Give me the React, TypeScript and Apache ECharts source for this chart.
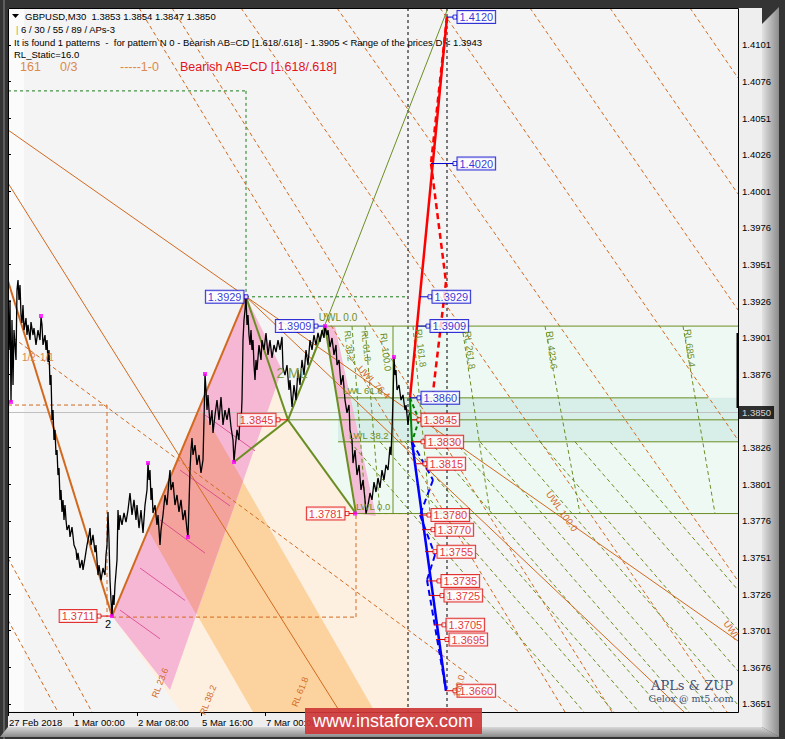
import { useEffect, useRef } from "react";
import * as echarts from "echarts";

const FONT = '"Liberation Sans", Arial, sans-serif';
const SERIF = '"DejaVu Serif", "Liberation Serif", serif';

const X_MIN = 0;
const X_MAX = 730;
const Y_MIN = 1.36455;
const Y_MAX = 1.41262;

const TIME_TICKS = [0, 65, 129, 193, 257];
const TIME_LABELS = ["27 Feb 2018", "1 Mar 00:00", "2 Mar 08:00", "5 Mar 16:00", "7 Mar 00:00"];
const PRICE_TICKS = [1.3651, 1.3676, 1.3701, 1.3726, 1.3751, 1.3776, 1.3801, 1.3826, 1.3876, 1.3901, 1.3926, 1.3951, 1.3976, 1.4001, 1.4026, 1.4051, 1.4076, 1.4101];
const LAST_PRICE = 1.385;

// GBPUSD M30 price path [bar index, price]
const PRICE_PATH = [
  [1,1.38927],[2,1.39268],[3,1.38572],[4,1.39132],[5,1.38688],[6,1.39063],[8,1.38859],[9,1.39337],[10,1.39405],[11,1.39268],[12,1.39371],[13,1.39166],[14,1.39111],[15,1.39234],[16,1.39063],[18,1.39145],[19,1.39029],[20,1.39098],[22,1.38995],[23,1.39118],[25,1.39029],[26,1.39077],[28,1.38961],[30,1.39063],[32,1.38995],[33,1.39152],[34,1.39098],[35,1.38961],[37,1.39029],[38,1.38927],[39,1.38995],[40,1.38845],[41,1.38927],[42,1.38688],[43,1.38756],[44,1.38449],[45,1.38517],[46,1.38312],[47,1.38381],[48,1.38210],[49,1.38244],[50,1.38073],[51,1.38121],[52,1.37903],[53,1.37971],[54,1.37821],[55,1.37903],[56,1.37766],[57,1.37868],[58,1.37766],[59,1.37698],[61,1.37732],[62,1.37650],[64,1.37718],[66,1.37595],[68,1.37561],[69,1.37493],[70,1.37541],[72,1.37438],[74,1.37493],[75,1.37425],[77,1.37506],[79,1.37595],[81,1.37664],[82,1.37711],[83,1.37595],[85,1.37664],[87,1.37547],[88,1.37595],[90,1.37390],[91,1.37459],[93,1.37356],[95,1.37438],[97,1.37390],[98,1.37527],[99,1.37595],[100,1.37821],[101,1.37629],[102,1.37356],[103,1.37220],[104,1.37110],[105,1.37254],[106,1.37186],[107,1.37322],[109,1.37493],[110,1.37834],[111,1.37698],[112,1.37800],[114,1.37732],[116,1.37814],[118,1.37752],[120,1.37834],[122,1.37950],[124,1.37800],[126,1.37903],[128,1.37766],[129,1.37868],[131,1.37711],[133,1.37834],[135,1.37677],[137,1.37868],[139,1.37971],[140,1.38155],[141,1.38039],[142,1.38107],[143,1.37903],[144,1.37985],[145,1.37814],[147,1.37868],[149,1.37732],[150,1.37800],[152,1.37595],[153,1.37698],[155,1.37800],[157,1.37937],[159,1.37868],[161,1.38039],[162,1.38107],[163,1.37971],[165,1.38025],[167,1.37868],[169,1.37937],[171,1.37821],[173,1.37903],[175,1.37766],[177,1.37834],[179,1.37698],[180,1.37650],[181,1.37868],[182,1.38107],[183,1.38244],[184,1.38326],[185,1.38210],[187,1.38278],[189,1.38142],[191,1.38210],[193,1.38087],[195,1.38176],[196,1.38449],[197,1.38763],[198,1.38654],[199,1.38517],[200,1.38620],[202,1.38415],[204,1.38517],[205,1.38360],[207,1.38483],[209,1.38585],[211,1.38449],[213,1.38606],[215,1.38415],[217,1.38517],[219,1.38449],[221,1.38531],[223,1.38401],[225,1.38312],[226,1.38162],[227,1.38244],[229,1.38381],[231,1.38312],[232,1.38497],[233,1.38415],[234,1.38585],[235,1.38995],[236,1.39132],[237,1.39200],[238,1.39290],[239,1.39098],[240,1.39166],[241,1.39029],[242,1.38961],[243,1.39063],[244,1.38927],[245,1.38995],[246,1.38824],[247,1.38722],[248,1.38859],[249,1.38790],[251,1.38961],[253,1.38859],[254,1.38995],[256,1.38927],[258,1.39043],[260,1.38893],[262,1.38995],[264,1.38872],[266,1.38961],[268,1.38913],[270,1.38995],[272,1.38927],[274,1.39016],[275,1.38804],[277,1.38756],[279,1.38824],[281,1.38654],[282,1.38722],[284,1.38538],[286,1.38688],[288,1.38585],[290,1.38790],[292,1.38688],[294,1.38859],[296,1.38756],[298,1.38927],[300,1.38824],[302,1.38995],[304,1.38927],[306,1.39029],[308,1.38961],[310,1.39043],[312,1.38982],[314,1.39063],[316,1.39009],[317,1.39090],[319,1.39029],[320,1.39063],[322,1.38947],[324,1.39009],[326,1.38893],[328,1.38961],[329,1.38824],[331,1.38859],[333,1.38688],[335,1.38756],[337,1.38585],[339,1.38497],[341,1.38551],[342,1.38381],[344,1.38312],[345,1.38155],[347,1.38244],[349,1.38073],[351,1.38142],[353,1.37971],[355,1.38039],[357,1.37903],[358,1.37810],[360,1.37868],[362,1.37950],[364,1.37903],[366,1.38025],[368,1.37957],[370,1.38053],[372,1.37985],[374,1.38107],[376,1.38039],[378,1.38142],[380,1.38107],[382,1.38265],[383,1.38210],[384,1.38381],[385,1.38585],[386,1.38879],[387,1.38756],[388,1.38790],[389,1.38654],[391,1.38688],[393,1.38585],[395,1.38620],[397,1.38517],[398,1.38551],[400,1.38415],[401,1.38483],[402,1.38500]
];

const PIVOTS = [[3,1.38572],[33,1.39159],[104,1.3711],[140,1.38155],[180,1.3765],[197,1.38763],[226,1.38162],[238,1.3929],[317,1.3909],[347,1.3781],[386,1.38879]];

// zones (polygons) [bar index, price]
const MINT_ZONE = [[322,1.3909],[730,1.3909],[730,1.3781],[322,1.3781]];
const TEAL_ZONE = [[330,1.386],[730,1.386],[730,1.383],[330,1.383]];
const PEACH_ZONE = [[104,1.3711],[238,1.3929],[280,1.3845],[348,1.3781],[402,1.3781],[402,1.36455],[173,1.36455]];
const ORANGE_BAND = [[192,1.38538],[367,1.36455],[245,1.36455],[140,1.377]];
const PINK_BAND = [[104,1.3711],[238,1.3929],[274,1.3879],[162,1.36605]];
const SALMON_BAND = [[192,1.38538],[235,1.38032],[188,1.37124],[140,1.377]];
const PINK_STRIP = [[317,1.3909],[327,1.3909],[368,1.37793],[348,1.3781]];

// segments [x1, p1, x2, p2]
const ORANGE_THIN = [[0,1.40429,730,1.3694],[0,1.40067,332,1.36455],[238,1.3929,676,1.36455]];
const ORANGE_THICK = [[0,1.39398,104,1.3711],[104,1.3711,238,1.3929]];
const ORANGE_DASH = [
  [131,1.41262,557,1.36455],[164,1.41262,604,1.36455],[233,1.41262,719,1.36455],[329,1.41262,730,1.3735],
  [432,1.41262,730,1.38312],[522,1.41262,730,1.392],[602,1.41262,730,1.39992],[682,1.41262,730,1.40784],
  [0,1.37506,84,1.36455],[0,1.37083,50,1.36455],[0,1.39036,511,1.36455],
  [0,1.38551,99,1.38551],[99,1.38551,99,1.37103],[104,1.37103,348,1.37103],[348,1.37103,348,1.3781],[348,1.3781,402,1.3781]
];
const MAGENTA = [[197,1.38483,247,1.38238],[172,1.38107,222,1.37862],[152,1.37766,197,1.3754],[132,1.37438,177,1.37217],[112,1.37151,152,1.36955]];
const OLIVE_THICK = [[226,1.38162,280,1.3845],[238,1.3929,280,1.3845],[280,1.3845,317,1.3909],[280,1.3845,348,1.3781],[317,1.3909,348,1.3781]];
const OLIVE_THIN = [[280,1.3845,440,1.41262],[317,1.3909,730,1.3909],[330,1.386,700,1.386],[280,1.3845,730,1.3845],[330,1.383,730,1.383],[348,1.3781,730,1.3781],[385,1.3909,385,1.3781]];
const OLIVE_DASH = [
  [344,1.3909,358,1.3781],[357,1.3909,372,1.3781],[405,1.3909,422,1.3781],[454,1.3909,482,1.3781],[537,1.3909,572,1.3781],[675,1.3909,707,1.3781],
  [342,1.383,576,1.36455],[372,1.383,606,1.36455],[397,1.383,631,1.36455],[422,1.383,656,1.36455],[447,1.383,681,1.36455],
  [472,1.383,706,1.36455],[502,1.383,730,1.36503],[532,1.383,730,1.36735],[567,1.383,730,1.37015],[602,1.383,730,1.37288]
];
const GREEN_RECT = [[0,1.40696,238,1.40696],[238,1.40696,238,1.3929],[238,1.3929,400,1.3929]];
const GREEN_SOLID = [[402,1.386,404,1.383]];
const GREEN_DASH = [[402,1.386,411,1.3845],[411,1.3845,404,1.383]];
const RED_SOLID = [[402,1.386,439,1.412]];
const RED_DASH = [[439,1.412,423,1.402],[423,1.402,438,1.39391],[438,1.39391,425,1.3864]];
const BLUE_SOLID = [[404,1.383,438,1.366]];
const BLUE_DASH = [[404,1.383,425,1.38039],[425,1.38039,412,1.378],[412,1.378,427,1.37527],[427,1.37527,419,1.37356],[419,1.37356,438,1.366]];
const DOTTED = [[400,Y_MAX,400,Y_MIN],[439,Y_MAX,439,Y_MIN]];
const BID_LINE = [[0,LAST_PRICE,730,LAST_PRICE]];
const LAST_BAR = [[730,1.39043,730,1.3853]];
const BLUE_CONNECTORS = [[439,1.412,447,1.412],[423,1.402,447,1.402],[412,1.3929,422,1.3929],[409,1.3909,420,1.3909],[402,1.386,411,1.386],[308,1.3909,317,1.3909]];
const RED_CONNECTORS = [[404,1.3845,411,1.3845],[404,1.383,415,1.383],[407,1.3815,417,1.3815],[412,1.378,421,1.378],[414,1.377,425,1.377],[417,1.3755,427,1.3755],[420,1.3735,431,1.3735],[422,1.3725,434,1.3725],[426,1.3705,436,1.3705],[428,1.3695,439,1.3695],[438,1.366,447,1.366],[270,1.3845,280,1.3845],[339,1.3781,348,1.3781],[91,1.3711,104,1.3711]];

// level labels
const RIGHT_BLUE_LABELS = [[447,1.412],[447,1.402],[422,1.3929],[420,1.3909],[411,1.386]];
const RIGHT_RED_LABELS = [[411,1.3845],[415,1.383],[417,1.3815],[421,1.378],[425,1.377],[427,1.3755],[431,1.3735],[434,1.3725],[436,1.3705],[439,1.3695],[447,1.366]];
const LEFT_BLUE_LABELS = [[238,1.3929],[308,1.3909]];
const LEFT_RED_LABELS = [[270,1.3845],[339,1.3781],[91,1.3711]];

const HEADER_1 = "GBPUSD,M30  1.3853 1.3854 1.3847 1.3850";
const HEADER_2 = "6 / 30 / 55 / 89 / APs-3";
const HEADER_3 = "It is found 1 patterns  -  for pattern N 0 - Bearish AB=CD [1.618/.618] - 1.3905 < Range of the prices D < 1.3943";
const HEADER_4 = "RL_Static=16.0";
const PATTERN_NAME = "Bearish AB=CD [1.618/.618]";

const OLIVE = "#6b8e23";
const ORANGE = "#d2691e";

function segSeries(id: string, segs: number[][], color: string, width: number, dash: number[] | null, z: number, opacity = 1) {
  return {
    id, type: "custom", coordinateSystem: "cartesian2d", silent: true, z, clip: true,
    data: segs, encode: { x: [0, 2], y: [1, 3] },
    renderItem: (_p: any, api: any) => {
      const a = api.coord([api.value(0), api.value(1)]);
      const b = api.coord([api.value(2), api.value(3)]);
      return { type: "line", shape: { x1: a[0], y1: a[1], x2: b[0], y2: b[1] },
        style: { stroke: color, lineWidth: width, lineDash: dash || undefined, fill: null, opacity } };
    },
  };
}

function polySeries(id: string, verts: number[][], color: string, z: number) {
  return {
    id, type: "custom", coordinateSystem: "cartesian2d", silent: true, z, clip: true,
    data: verts, encode: { x: 0, y: 1 },
    renderItem: (p: any, api: any) => {
      if (p.dataIndex !== 0) return null;
      const pts = verts.map((v) => api.coord(v));
      return { type: "polygon", shape: { points: pts }, style: { fill: color } };
    },
  };
}

function labelSeries(id: string, pts: number[][], color: string, side: string) {
  return {
    id, type: "scatter", data: pts, symbol: "rect", symbolSize: 4, z: 20, clip: false, silent: true,
    itemStyle: { color: "#fff", borderColor: color, borderWidth: 1 },
    label: {
      show: true, position: side, distance: 0,
      formatter: (p: any) => p.value[1].toFixed(4),
      color, fontSize: 11, fontFamily: FONT, backgroundColor: "#fff",
      borderColor: color, borderWidth: 1, padding: [1, 2, 0, 2], lineHeight: 11,
    },
  };
}

function txt(text: string, x: number, y: number, color: string, size: number, o: any = {}) {
  return {
    type: "text", x, y, rotation: o.rot || 0, z: o.z ?? 50, silent: true,
    style: {
      text, fill: color, font: `${size}px ${o.family || FONT}`,
      textAlign: o.align || "left", textVerticalAlign: "middle",
      align: o.align || "left", verticalAlign: "middle", opacity: o.opacity ?? 1,
    },
  };
}

export default function App() {
  const ref = useRef<HTMLDivElement>(null);
  useEffect(() => {
    document.body.style.margin = "0";
    const chart = echarts.init(ref.current as HTMLDivElement, null, { renderer: "svg" });
    const option: any = {
      animation: false,
      grid: { left: 8, right: 47, top: 8, bottom: 27, containLabel: false, outerBoundsMode: "none" },
      xAxis: {
        type: "value", min: X_MIN, max: X_MAX,
        axisLine: { show: false }, splitLine: { show: false },
        axisTick: { show: true, customValues: TIME_TICKS, length: 4, lineStyle: { color: "#000" } },
        axisLabel: {
          customValues: TIME_TICKS, formatter: (v: number) => TIME_LABELS[TIME_TICKS.indexOf(v)] || "",
          align: "left", margin: 5, color: "#000", fontSize: 9.5, fontFamily: FONT, padding: [0, 0, 0, 1],
        },
      },
      yAxis: {
        type: "value", position: "right", min: Y_MIN, max: Y_MAX, scale: true,
        axisLine: { show: false }, splitLine: { show: false },
        axisTick: { show: true, customValues: PRICE_TICKS, length: 3, lineStyle: { color: "#000" } },
        axisLabel: { customValues: PRICE_TICKS, formatter: (v: number) => v.toFixed(4), margin: 4, color: "#000", fontSize: 9.5, fontFamily: FONT },
      },
      graphic: [
        { type: "rect", z: -20, shape: { x: 0, y: 0, width: 785, height: 739 }, style: { fill: "#343434" } },
        { type: "rect", z: -19, shape: { x: 3, y: 0, width: 2, height: 739 }, style: { fill: "#5e5e5e" } },
        { type: "rect", z: -19, shape: { x: 8, y: 8, width: 754, height: 719 }, style: { fill: "#eeeeee" } },
        { type: "polygon", z: -18, shape: { points: [[762, 24], [779, 7], [779, 737], [762, 727]] },
          style: { fill: { type: "linear", x: 0, y: 0, x2: 1, y2: 0, colorStops: [{ offset: 0, color: "#e2e2e2" }, { offset: 1, color: "#8c8c8c" }] } } },
        { type: "polygon", z: -18, shape: { points: [[8, 727], [762, 727], [779, 737], [0, 737]] },
          style: { fill: { type: "linear", x: 0, y: 0, x2: 0, y2: 1, colorStops: [{ offset: 0, color: "#d8d8d8" }, { offset: 1, color: "#8a8a8a" }] } } },
        { type: "rect", z: -17, shape: { x: 8, y: 8, width: 730, height: 704 }, style: { fill: "#f4f4f4" } },
        { type: "rect", z: -16, shape: { x: 9, y: 9, width: 15, height: 702 }, style: { fill: "#fbfbfb" } },
        { type: "rect", z: 40, silent: true, shape: { x: 8.5, y: 8.5, width: 730, height: 704 }, style: { fill: "none", stroke: "#000", lineWidth: 1 } },
        // header
        { type: "polygon", z: 50, shape: { points: [[12, 14], [19, 14], [15.5, 18]] }, style: { fill: "#000" } },
        txt(HEADER_1, 25, 16, "#000", 9.5),
        txt("|", 16, 29, "#b8a830", 9.5),
        txt(HEADER_2, 21, 29, "#000", 9.5),
        txt(HEADER_3, 14, 42, "#000", 9.5),
        txt(HEADER_4, 14, 54, "#000", 9.5),
        txt("161", 20, 67, "#dc8a4b", 12.5),
        txt("0/3", 60, 67, "#dc8a4b", 12.5),
        txt("-----1-0", 120, 67, "#dc8a4b", 12.5),
        txt(PATTERN_NAME, 180, 67, "#e3121b", 12.5),
        // annotations
        txt("UWL 0.0", 338, 317, OLIVE, 10, { align: "center" }),
        txt("2 ML", 292, 373, "#7d9c4c", 14, { align: "center", z: 12 }),
        txt("RL 38.2", 349, 346, OLIVE, 9, { align: "center", rot: -1.45 }),
        txt("RL 61.8", 366, 346, OLIVE, 9, { align: "center", rot: -1.45 }),
        txt("RL 100.0", 386, 352, OLIVE, 9.5, { align: "center", rot: -1.45 }),
        txt("RL 161.8", 421, 348, OLIVE, 9.5, { align: "center", rot: -1.45 }),
        txt("RL 261.8", 470, 350, OLIVE, 9.5, { align: "center", rot: -1.45 }),
        txt("RL 423.6", 552, 350, OLIVE, 9.5, { align: "center", rot: -1.45 }),
        txt("RL 685.4", 690, 348, OLIVE, 9.5, { align: "center", rot: -1.45 }),
        txt("LWL 61.8", 343, 390, OLIVE, 9.5),
        txt("LWL 38.2", 349, 435, OLIVE, 9.5),
        txt("LWL 0.0", 356, 506, OLIVE, 9.5),
        txt("UWL 76.4", 374, 382, ORANGE, 9.5, { align: "center", rot: -0.8 }),
        txt("UWL 100.0", 562, 511, ORANGE, 9.5, { align: "center", rot: -0.95 }),
        txt("UWL", 732, 630, ORANGE, 9.5, { align: "center", rot: -0.95 }),
        txt("RL 23.6", 160, 683, ORANGE, 9, { align: "center", rot: 1.2 }),
        txt("RL 38.2", 208, 700, ORANGE, 9, { align: "center", rot: 1.2 }),
        txt("RL 61.8", 300, 692, ORANGE, 9, { align: "center", rot: 1.2 }),
        txt("100.0", 459, 686, ORANGE, 9, { align: "center", rot: 1.3 }),
        txt("1/2", 22, 357, "#d98a50", 10),
        txt("1/1", 40, 357, "#d98a50", 10),
        txt("2", 108, 624, "#000", 11, { align: "center" }),
        txt("APLs & ZUP", 692, 685, "#3f5275", 13, { align: "center", family: SERIF }),
        txt("Gelox @ mt5.com", 691, 698, "#3f5275", 9.5, { align: "center", family: SERIF }),
        // watermark
        { type: "rect", z: 100, shape: { x: 305, y: 708, width: 177, height: 26 }, style: { fill: "rgba(205,55,55,0.92)" } },
        txt("www.instaforex.com", 393, 721, "#ffffff", 18, { align: "center", z: 101 }),
      ],
      series: [
        polySeries("mint", MINT_ZONE, "#eff9f3", 1),
        polySeries("teal", TEAL_ZONE, "#d8eee8", 1),
        polySeries("peach", PEACH_ZONE, "#fdf0e1", 2),
        polySeries("orangeBand", ORANGE_BAND, "#fcd39e", 3),
        polySeries("pink", PINK_BAND, "#f6b7d5", 4),
        polySeries("pinkStrip", PINK_STRIP, "#f4bcd6", 4),
        polySeries("salmon", SALMON_BAND, "#f3a29c", 5),
        segSeries("bid", BID_LINE, "#c0c0c0", 1, null, 6),
        segSeries("orangeDash", ORANGE_DASH, ORANGE, 1, [4, 3], 6),
        segSeries("oliveDash", OLIVE_DASH, OLIVE, 1, [4, 3], 6),
        segSeries("orangeThin", ORANGE_THIN, ORANGE, 1, null, 6),
        segSeries("magenta", MAGENTA, "#d0307e", 1, null, 6, 0.7),
        segSeries("dotted", DOTTED, "#000", 1, [3, 3], 6),
        segSeries("orangeThick", ORANGE_THICK, ORANGE, 2, null, 7),
        segSeries("oliveThin", OLIVE_THIN, OLIVE, 1, null, 7),
        segSeries("greenRect", GREEN_RECT, "#1c7c1c", 1, [3, 3], 7),
        segSeries("oliveThick", OLIVE_THICK, OLIVE, 2, null, 7),
        {
          id: "price", type: "line", data: PRICE_PATH, symbol: "none", silent: true, z: 8,
          lineStyle: { color: "#000", width: 1.3 },
        },
        segSeries("greenSolid", GREEN_SOLID, "#008000", 2, null, 9),
        segSeries("greenDash", GREEN_DASH, "#008000", 2, [4, 3], 9),
        segSeries("redSolid", RED_SOLID, "#ff0000", 2.5, null, 9),
        segSeries("redDash", RED_DASH, "#ff0000", 2.5, [6, 4], 9),
        segSeries("blueSolid", BLUE_SOLID, "#0000ff", 2.5, null, 9),
        segSeries("blueDash", BLUE_DASH, "#0000ff", 2, [6, 4], 9),
        segSeries("blueConn", BLUE_CONNECTORS, "#0000cd", 1, null, 9),
        segSeries("redConn", RED_CONNECTORS, "#dd0000", 1, null, 9),
        segSeries("lastBar", LAST_BAR, "#000", 3, null, 41),
        {
          id: "pivots", type: "scatter", data: PIVOTS, symbol: "rect", symbolSize: 4, silent: true, z: 10,
          itemStyle: { color: "#ff00ff" },
        },
        labelSeries("rb", RIGHT_BLUE_LABELS, "#0000cd", "right"),
        labelSeries("rr", RIGHT_RED_LABELS, "#dd0000", "right"),
        labelSeries("lb", LEFT_BLUE_LABELS, "#0000cd", "left"),
        labelSeries("lr", LEFT_RED_LABELS, "#dd0000", "left"),
        {
          id: "last", type: "scatter", data: [[X_MAX, LAST_PRICE]], symbolSize: 0, silent: true, z: 42, clip: false,
          label: {
            show: true, position: "right", distance: 1, formatter: () => LAST_PRICE.toFixed(4),
            color: "#fff", backgroundColor: "#000", padding: [2, 3, 1, 3], fontSize: 9.5, fontFamily: FONT,
          },
        },
      ],
    };
    chart.setOption(option);
    return () => chart.dispose();
  }, []);
  return <div ref={ref} style={{ width: 785, height: 739 }} />;
}
